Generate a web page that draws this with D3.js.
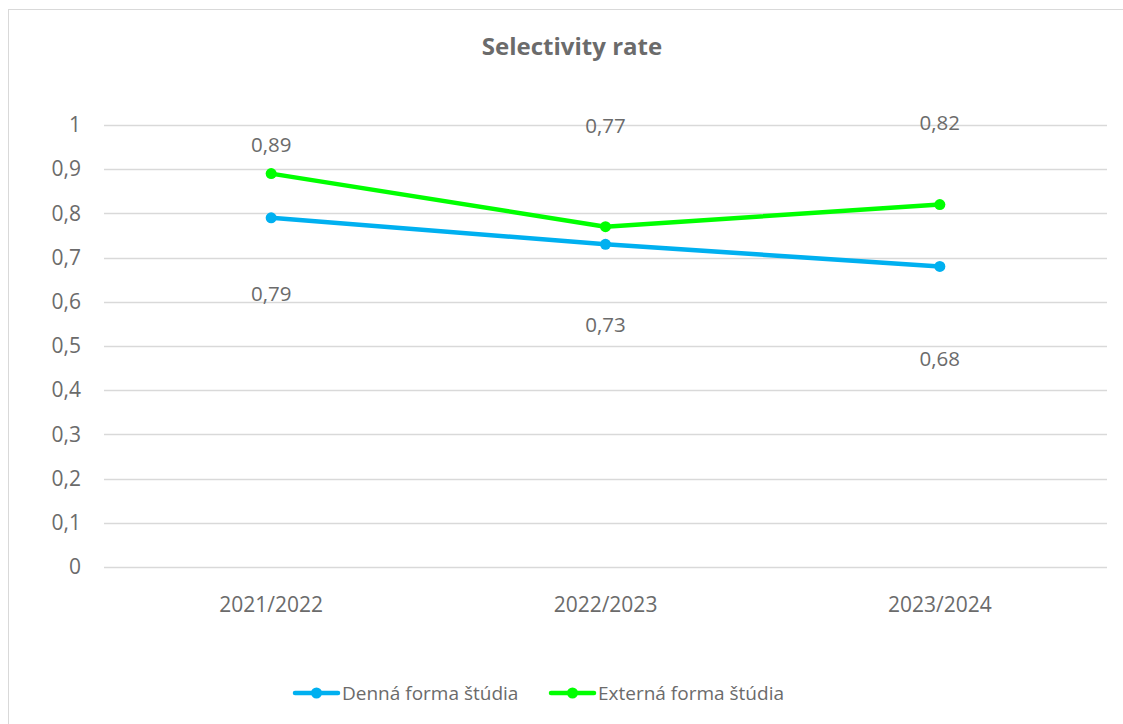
<!DOCTYPE html>
<html><head><meta charset="utf-8">
<script src="https://cdn.jsdelivr.net/npm/d3@7"></script>
<style>
html,body{margin:0;padding:0;background:#fff;}
svg{display:block;font-family:"Open Sans",sans-serif;}
</style></head>
<body><svg id="chart" width="1123" height="724"></svg>
<script>
const categories = ["2021/2022", "2022/2023", "2023/2024"];
const dennaValues = [0.79, 0.73, 0.68];
const externaValues = [0.89, 0.77, 0.82];
const dennaLabelAt = [0.618, 0.548, 0.471];
const externaLabelAt = [0.955, 0.998, 1.005];
const yTicks = [0, 0.1, 0.2, 0.3, 0.4, 0.5, 0.6, 0.7, 0.8, 0.9, 1];
const seriesNames = ["Denná forma štúdia", "Externá forma štúdia"];
const seriesColors = ["#00B0F0", "#00FF00"];

const svg = d3.select("#chart");
const textColor = "#6b6b6b";
const fmt = v => String(v).replace(".", ",");

// outer border
svg.append("rect").attr("x", 8.5).attr("y", 9.5).attr("width", 1130).attr("height", 730)
  .attr("fill", "#fff").attr("stroke", "#d9d9d9").attr("stroke-width", 1);

svg.append("text").attr("x", 572).attr("y", 55).attr("text-anchor", "middle")
  .attr("font-size", 24).attr("font-weight", "bold").attr("fill", textColor)
  .text("Selectivity rate");

const x = d3.scaleBand().domain(categories).range([104, 1107]);
const y = d3.scaleLinear().domain([0, 1]).range([567, 125]);

// gridlines
svg.append("g").selectAll("line").data(yTicks).join("line")
  .attr("x1", 104).attr("x2", 1107)
  .attr("y1", d => Math.round(y(d)) + 0.5).attr("y2", d => Math.round(y(d)) + 0.5)
  .attr("stroke", "#d9d9d9").attr("stroke-width", 1.5);

// y axis labels
const yAxis = d3.axisLeft(y).tickValues(yTicks).tickFormat(fmt).tickSize(0).tickPadding(0);
const gy = svg.append("g").attr("transform", "translate(81,0)").call(yAxis);
gy.select(".domain").remove();
gy.selectAll("text").attr("font-size", 21).attr("fill", textColor).attr("font-family", "Open Sans");

// x axis labels
const xAxis = d3.axisBottom(x).tickSize(0).tickPadding(0);
const gx = svg.append("g").attr("transform", "translate(0,597)").call(xAxis);
gx.select(".domain").remove();
gx.selectAll("text").attr("font-size", 21).attr("fill", textColor).attr("font-family", "Open Sans");

const cx = c => x(c) + x.bandwidth() / 2;
const series = [
  {values: dennaValues, labels: dennaLabelAt, color: seriesColors[0]},
  {values: externaValues, labels: externaLabelAt, color: seriesColors[1]}
];
const line = d3.line().x((d, i) => cx(categories[i])).y(d => y(d));

series.forEach(s => {
  svg.append("path").datum(s.values).attr("d", line)
    .attr("fill", "none").attr("stroke", s.color).attr("stroke-width", 4.5)
    .attr("stroke-linejoin", "round").attr("stroke-linecap", "round");
  svg.append("g").selectAll("circle").data(s.values).join("circle")
    .attr("cx", (d, i) => cx(categories[i])).attr("cy", d => y(d)).attr("r", 5.5)
    .attr("fill", s.color);
  svg.append("g").selectAll("text").data(s.values).join("text")
    .attr("x", (d, i) => cx(categories[i])).attr("y", (d, i) => y(s.labels[i]))
    .attr("dy", "0.35em").attr("text-anchor", "middle")
    .attr("font-size", 20.5).attr("fill", textColor).text(fmt);
});

// legend
const legendX = [293, 549];
const lg = svg.append("g");
seriesNames.forEach((name, i) => {
  const g = lg.append("g").attr("transform", `translate(${legendX[i]},693)`);
  g.append("line").attr("x1", 2).attr("x2", 45).attr("stroke", seriesColors[i])
    .attr("stroke-width", 4.5).attr("stroke-linecap", "round");
  g.append("circle").attr("cx", 23.5).attr("r", 5.5).attr("fill", seriesColors[i]);
  g.append("text").attr("x", 49).attr("dy", "0.35em").attr("font-size", 19)
    .attr("fill", textColor).text(name);
});
</script></body></html>
